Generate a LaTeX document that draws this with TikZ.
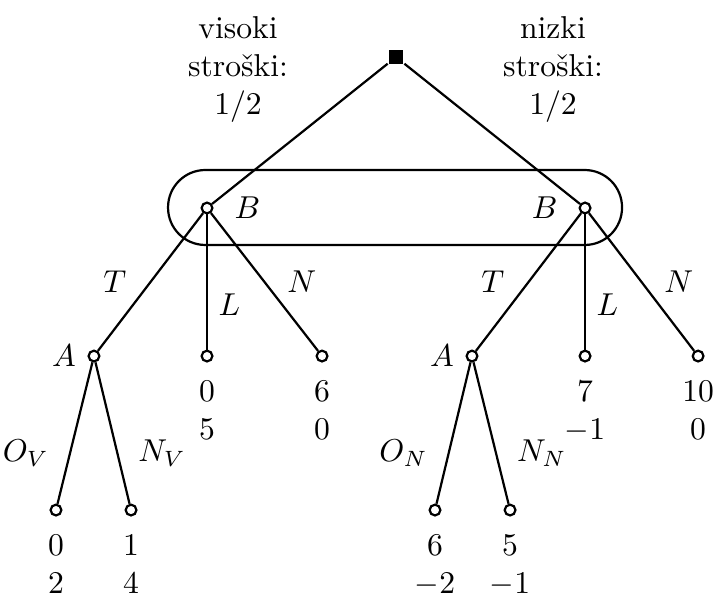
\documentclass[tikz,border=0pt]{standalone}
\usepackage{tikz}
\usetikzlibrary{positioning}

\begin{document}
\begin{tikzpicture}[line width=0.7pt,
    chance/.style={rectangle, fill=black, inner sep=0pt, minimum size=4.6pt},
    dnode/.style={circle, draw, fill=white, inner sep=0pt, minimum size=3.4pt},
    payoff/.style={align=center, inner sep=0pt},
    prob/.style={align=center}]

  % ================= frame =================
  \useasboundingbox (0,0) rectangle (7.944,6.578);

  % ================= nature =================
  \node[chance] (root) at (4.4,5.944) {};
  \node[prob] (hi) at (2.644,5.81) {visoki\\stroški:\\$1/2$};
  \node[prob] (lo) at (6.144,5.81) {nizki\\stroški:\\$1/2$};

  % ================= player B =================
  \node[dnode, label={[label distance=3pt]right:$B$}] (B1) at (2.3,4.267) {};
  \node[dnode, label={[label distance=3pt]left:$B$}]  (B2) at (6.5,4.267) {};

  % information set
  \draw[rounded corners=11.8pt] (1.867,3.856) rectangle (6.911,4.689);

  % ================= second level =================
  \node[dnode, label=left:$A$] (A1) at (1.044,2.622) {};
  \node[dnode] (LV) at (2.3,2.622) {};
  \node[dnode] (NV) at (3.578,2.622) {};
  \node[dnode, label=left:$A$] (A2) at (5.244,2.622) {};
  \node[dnode] (LN) at (6.5,2.622) {};
  \node[dnode] (NN) at (7.756,2.622) {};

  % ================= third level =================
  \node[dnode] (OVl) at (0.622,0.911) {};
  \node[dnode] (NVl) at (1.456,0.911) {};
  \node[dnode] (ONl) at (4.833,0.911) {};
  \node[dnode] (NNl) at (5.667,0.911) {};

  % ================= payoffs =================
  \node[payoff, below=5.5pt of LV]  (pLV)  {$0$\\$5$};
  \node[payoff, below=5.5pt of NV]  (pNV)  {$6$\\$0$};
  \node[payoff, below=5.5pt of LN]  (pLN)  {$7$\\$-1$};
  \node[payoff, below=5.5pt of NN]  (pNN)  {$10$\\$0$};
  \node[payoff, below=5.5pt of OVl] (pOVl) {$0$\\$2$};
  \node[payoff, below=5.5pt of NVl] (pNVl) {$1$\\$4$};
  \node[payoff, below=5.5pt of ONl] (pONl) {$6$\\$-2$};
  \node[payoff, below=5.5pt of NNl] (pNNl) {$5$\\$-1$};

  % ================= moves =================
  \draw (root) -- (B1);
  \draw (root) -- (B2);

  \draw (B1) -- node[left=4pt] {$T$} (A1);
  \draw (B1) -- node[pos=0.67, right] {$L$} (LV);
  \draw (B1) -- node[right=3.5pt] {$N$} (NV);
  \draw (B2) -- node[left=4pt] {$T$} (A2);
  \draw (B2) -- node[pos=0.67, right] {$L$} (LN);
  \draw (B2) -- node[right=3.5pt] {$N$} (NN);

  \draw (A1) -- node[pos=0.64, left=3pt] {$O_V$} (OVl);
  \draw (A1) -- node[pos=0.64, right=3pt] {$N_V$} (NVl);
  \draw (A2) -- node[pos=0.64, left=3pt] {$O_N$} (ONl);
  \draw (A2) -- node[pos=0.64, right=3pt] {$N_N$} (NNl);

\end{tikzpicture}
\end{document}
